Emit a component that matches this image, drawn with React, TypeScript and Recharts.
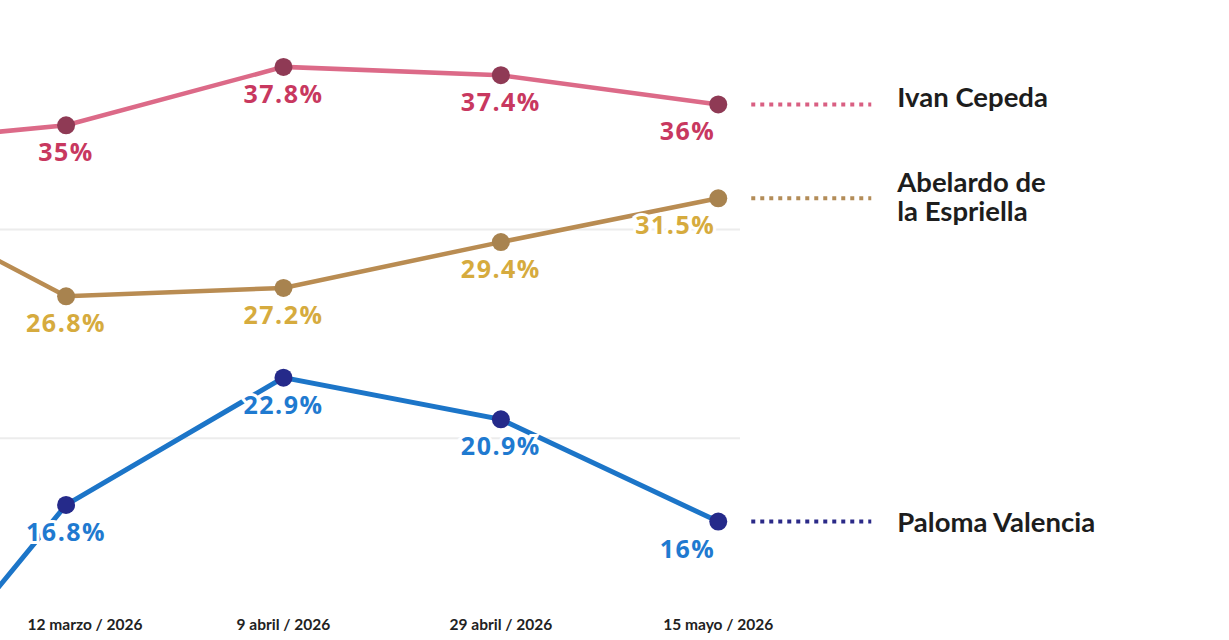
import { LineChart, Line, XAxis, YAxis, CartesianGrid, LabelList } from 'recharts';

// first entry is the earlier poll, it sits left of the visible area
const DATES = ['febrero / 2026', '12 marzo / 2026', '9 abril / 2026', '29 abril / 2026', '15 mayo / 2026'];
const IVAN = [34.0, 35, 37.8, 37.4, 36];
const ABELARDO = [32.3, 26.8, 27.2, 29.4, 31.5];
const PALOMA = [4.1, 16.8, 22.9, 20.9, 16];
const X_TICKS = [1, 2, 3, 4];
const Y_TICKS = [20, 30];

const data = DATES.map((date, i) => ({
  x: i,
  date,
  ivan: IVAN[i],
  abelardo: ABELARDO[i],
  paloma: PALOMA[i],
}));
const LAST = DATES.length - 1;

const SERIES = [
  { key: 'ivan', name: ['Ivan Cepeda'], line: '#dc6a88', dot: '#8f3a55', label: '#c8385f', legend: '#d95f82', width: 4.5, textDy: -7 },
  { key: 'abelardo', name: ['Abelardo de', 'la Espriella'], line: '#b98c52', dot: '#a8834f', label: '#d6ab3e', legend: '#b38c58', width: 4.5, textDy: -2 },
  { key: 'paloma', name: ['Paloma Valencia'], line: '#1c75c8', dot: '#252a8a', label: '#1f7ad0', legend: '#2b2a88', width: 5, textDy: 0 },
];

const getXY = (p: any) => ({
  x: p.x ?? p.viewBox?.x ?? 0,
  y: p.y ?? p.viewBox?.y ?? 0,
});

function ValueLabel(props: any, color: string) {
  const { x, y } = getXY(props);
  if (x < 0) return null;
  const last = props.index === LAST;
  return (
    <text
      x={last ? x - 3 : x}
      y={y + 36}
      textAnchor={last ? 'end' : 'middle'}
      fill={color}
      stroke="#fff"
      strokeWidth={6}
      paintOrder="stroke"
      style={{ fontFamily: '"Open Sans", sans-serif', fontWeight: 700, fontSize: 25, letterSpacing: 1.5 }}
    >
      {`${props.value}%`}
    </text>
  );
}

function LegendLabel(props: any, s: (typeof SERIES)[number]) {
  if (props.index !== LAST) return null;
  const { x, y } = getXY(props);
  const lh = 29;
  const n = s.name.length;
  return (
    <g>
      <line x1={x + 33} x2={x + 153} y1={y} y2={y} stroke={s.legend} strokeWidth={4} strokeDasharray="4 5" />
      <text
        x={x + 179}
        fill="#1d1d1d"
        style={{ fontFamily: 'Lato, sans-serif', fontWeight: 700, fontSize: 27.5 }}
      >
        {s.name.map((t, i) => (
          <tspan key={t} x={x + 179} y={y + s.textDy + 10 + (i - (n - 1) / 2) * lh}>
            {t}
          </tspan>
        ))}
      </text>
    </g>
  );
}

function DateTick(props: any) {
  const { x, y, payload, index } = props;
  if (x < 0) return null;
  return (
    <text
      x={x + (index === 0 ? 19 : 0)}
      y={y + 25}
      textAnchor="middle"
      fill="#222"
      style={{ fontFamily: 'Lato, sans-serif', fontWeight: 700, fontSize: 15.5 }}
    >
      {DATES[payload.value]}
    </text>
  );
}

export default function App() {
  return (
    <div style={{ position: 'absolute', left: 0, top: 0, background: '#fff' }}>
      <LineChart width={1229} height={640} data={data} margin={{ top: 21, right: 489, bottom: 5, left: 0 }}>
        <CartesianGrid
          horizontal
          vertical={false}
          horizontalValues={Y_TICKS}
          stroke="#ececec"
          strokeWidth={2}
        />
        <XAxis
          dataKey="x"
          type="number"
          domain={[0.696, 4.1]}
          allowDataOverflow
          ticks={X_TICKS}
          tick={<DateTick />}
          tickSize={0}
          tickMargin={0}
          axisLine={false}
          tickLine={false}
          height={30}
          interval={0}
        />
        <YAxis type="number" domain={[12, 40]} allowDataOverflow ticks={Y_TICKS} width={0} hide />
        {SERIES.map((s) => (
          <Line
            key={s.key}
            dataKey={s.key}
            type="linear"
            stroke={s.line}
            strokeWidth={s.width}
            dot={{ r: 9, fill: s.dot, stroke: s.dot, strokeWidth: 0 }}
            activeDot={false}
            isAnimationActive={false}
          >
            <LabelList dataKey={s.key} content={(p: any) => ValueLabel(p, s.label)} />
            <LabelList dataKey={s.key} content={(p: any) => LegendLabel(p, s)} />
          </Line>
        ))}
      </LineChart>
    </div>
  );
}
